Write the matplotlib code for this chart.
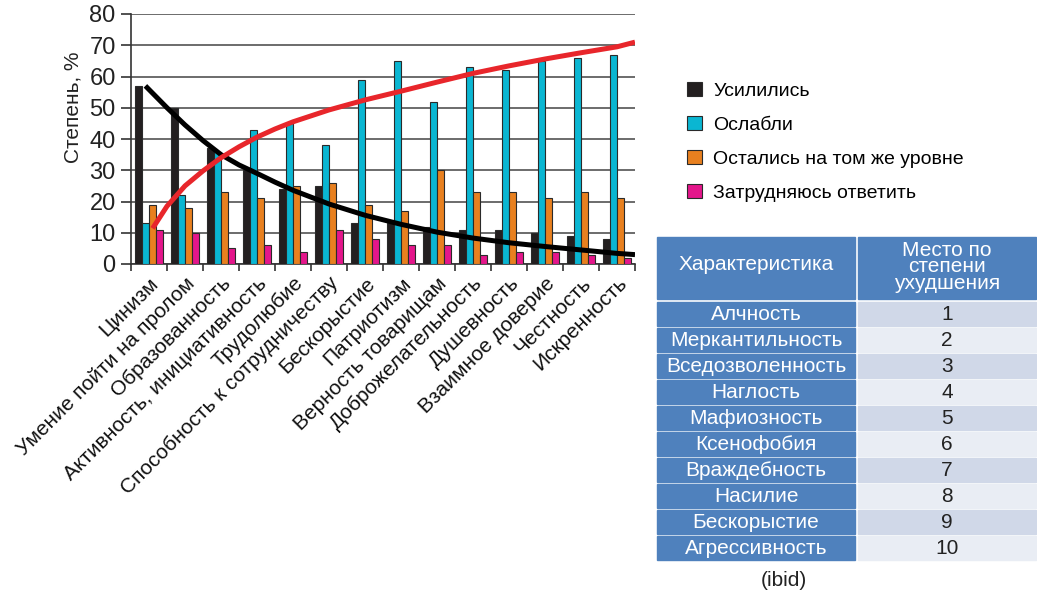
import numpy as np
import matplotlib
matplotlib.use("Agg")
import matplotlib.pyplot as plt
from matplotlib.patches import Rectangle

plt.rcParams['font.family'] = ['Liberation Sans', 'DejaVu Sans']

# ---------------- data ----------------
categories = ["Цинизм", "Умение пойти на пролом", "Образованность",
              "Активность, инициативность", "Трудолюбие",
              "Способность к сотрудничеству", "Бескорыстие", "Патриотизм",
              "Верность товарищам", "Доброжелательность", "Душевность",
              "Взаимное доверие", "Честность", "Искренность"]
series_names = ["Усилились", "Ослабли", "Остались на том же уровне", "Затрудняюсь ответить"]
strengthened = [57, 50, 37, 30, 24, 25, 13, 13, 12, 11, 11, 10, 9, 8]
weakened     = [13, 22, 36, 43, 45, 38, 59, 65, 52, 63, 62, 65, 66, 67]
same_level   = [19, 18, 23, 21, 25, 26, 19, 17, 30, 23, 23, 21, 23, 21]
hard_to_say  = [11, 10, 5, 6, 4, 11, 8, 6, 6, 3, 4, 4, 3, 2]

# trend lines (values at category positions)
black_trend_x = [-0.1, 0.5, 1, 1.5, 2, 2.5, 3, 3.5, 4, 5, 6, 7, 8, 9, 10, 11, 12, 13, 13.5]
black_trend_y = [57, 50, 44.5, 39.5, 35, 31.7, 29, 26.2, 23.6, 19.2, 15.6, 12.7, 10.2, 8.3, 6.8, 5.6, 4.5, 3.4, 3.0]
red_trend_x = [0.1, 0.5, 1, 1.5, 2, 2.5, 3, 3.5, 4, 5, 6, 7, 8, 9, 10, 11, 12, 13, 13.5]
red_trend_y = [11.4, 18.5, 25, 29.8, 34, 37.5, 40.6, 43.2, 45.5, 49.3, 52.5, 55.3, 58.2, 61, 63.4, 65.6, 67.6, 69.5, 71]

table_header = ["Характеристика", "Место по\nстепени\nухудшения"]
table_traits = ["Алчность", "Меркантильность", "Вседозволенность", "Наглость",
                "Мафиозность", "Ксенофобия", "Враждебность", "Насилие",
                "Бескорыстие", "Агрессивность"]
table_ranks = ["1", "2", "3", "4", "5", "6", "7", "8", "9", "10"]
note = "(ibid)"

# ---------------- figure ----------------
W, H = 1037, 594
fig = plt.figure(figsize=(W / 100, H / 100), dpi=100)
ax = fig.add_axes([131 / W, 1 - 264 / H, (635 - 131) / W, (264 - 14) / H])

colors = ["#231f20", "#0ab6d2", "#e8801f", "#e4168b"]
values = [strengthened, weakened, same_level, hard_to_say]
x = np.arange(len(categories))
bw = 0.19
for i, (vals, c, name) in enumerate(zip(values, colors, series_names)):
    ax.bar(x + (i - 1.5) * bw, vals, width=bw, color=c, edgecolor="#2a2a2a",
           linewidth=0.8, label=name, zorder=3)

ax.plot(black_trend_x, black_trend_y, color="black", lw=3.6, zorder=5, solid_capstyle="butt")
ax.plot(red_trend_x, red_trend_y, color="#e8262b", lw=3.6, zorder=5, solid_capstyle="butt")

ax.set_xlim(-0.5, len(categories) - 0.5)
ax.set_ylim(0, 80)
ax.set_yticks(range(0, 81, 10))
ax.tick_params(axis="y", labelsize=17, length=7, width=1.2, color="#333", pad=4, labelcolor="#222")
ax.yaxis.grid(True, color="#444", lw=1.1, zorder=0)
ax.set_axisbelow(True)
ax.set_ylabel("Степень, %", fontsize=15, color="#222")
ax.yaxis.set_label_coords(-0.097, 0.626)

ax.set_xticks(x)
ax.set_xticklabels(categories, rotation=45, ha="right", rotation_mode="anchor",
                   fontsize=15, color="#111")
ax.tick_params(axis="x", which="major", length=0, pad=7)
ax.set_xticks(np.arange(-0.5, len(categories), 1.0), minor=True)
ax.tick_params(axis="x", which="minor", length=5, width=1.2, color="#333")

for s in ["top", "right"]:
    ax.spines[s].set_visible(False)
ax.spines["left"].set_color("#333")
ax.spines["bottom"].set_color("#333")
ax.spines["left"].set_linewidth(1.2)
ax.spines["bottom"].set_linewidth(1.2)

fig.legend(loc="upper left", bbox_to_anchor=(687 / W, 1 - 82 / H), frameon=False,
           fontsize=14, handlelength=0.75, handleheight=0.75, handletextpad=0.6,
           labelspacing=0.83, borderaxespad=0, borderpad=0)

# ---------------- table ----------------
tax = fig.add_axes([0, 0, 1, 1])
tax.set_xlim(0, W)
tax.set_ylim(H, 0)
tax.axis("off")

blue = "#4f81bd"
c1x, c1w = 657, 198
c2x, c2w = 858, 178
hy, hh = 237, 62
tax.add_patch(Rectangle((c1x, hy), c1w, hh, color=blue))
tax.add_patch(Rectangle((c2x, hy), c2w, hh, color=blue))
tax.text(c1x + c1w / 2, 264, table_header[0], color="white", fontsize=15,
         ha="center", va="center")
tax.text(c2x + c2w / 2, 267, table_header[1], color="white", fontsize=15,
         ha="center", va="center", linespacing=0.82)
for i, (trait, rank) in enumerate(zip(table_traits, table_ranks)):
    y0 = 302 + 26 * i
    tax.add_patch(Rectangle((c1x, y0), c1w, 24, color=blue))
    tax.add_patch(Rectangle((c2x, y0), c2w, 24,
                            color="#d0d8e8" if i % 2 == 0 else "#e9edf4"))
    tax.text(c1x + c1w / 2, y0 + 13, trait, color="white", fontsize=15,
             ha="center", va="center")
    tax.text(c2x + c2w / 2, y0 + 13, rank, color="#222", fontsize=15,
             ha="center", va="center")
tax.text(784, 580, note, color="#222", fontsize=15, ha="center", va="center")

fig.savefig("out.png", dpi=100)
